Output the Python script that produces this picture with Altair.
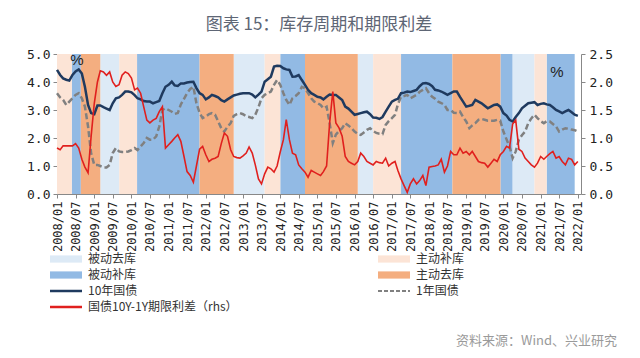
import altair as alt
import pandas as pd

# ---------------- data ----------------
months = pd.date_range("2008-01-01", periods=169, freq="MS").strftime("%Y/%m/%d").tolist()

y10 = [4.43,4.25,4.13,4.08,4.05,4.25,4.38,4.45,4.30,3.83,
       3.18,2.89,2.85,3.16,3.16,3.10,3.05,3.00,3.24,3.42,
       3.45,3.54,3.66,3.66,3.63,3.53,3.42,3.38,3.32,3.30,
       3.30,3.24,3.28,3.32,3.60,3.83,3.90,4.01,3.88,3.86,
       3.95,3.95,3.98,4.00,4.01,3.78,3.60,3.54,3.38,3.45,
       3.54,3.50,3.45,3.35,3.30,3.38,3.45,3.52,3.55,3.58,
       3.60,3.60,3.60,3.55,3.45,3.55,3.66,4.01,4.10,4.19,
       4.55,4.58,4.57,4.49,4.45,4.43,4.19,4.20,4.25,4.07,
       3.90,3.72,3.60,3.54,3.47,3.45,3.38,3.47,3.55,3.54,
       3.54,3.45,3.36,3.12,3.05,2.94,2.83,2.86,2.89,2.92,
       2.94,2.85,2.73,2.72,2.68,2.75,2.94,3.12,3.30,3.36,
       3.40,3.60,3.62,3.66,3.64,3.68,3.72,3.85,3.95,3.96,
       3.93,3.85,3.72,3.70,3.66,3.60,3.54,3.60,3.66,3.66,
       3.47,3.30,3.12,3.15,3.18,3.36,3.30,3.24,3.15,3.06,
       3.12,3.18,3.20,3.12,2.89,2.80,2.65,2.59,2.75,2.89,
       3.06,3.15,3.24,3.26,3.28,3.18,3.22,3.24,3.20,3.18,
       3.10,3.00,2.95,2.89,2.95,3.00,2.92,2.83,2.79]

y1 = [3.60,3.45,3.36,3.18,3.30,3.42,3.54,3.60,3.42,3.12,
      2.41,1.46,1.04,1.04,1.00,0.95,0.95,1.04,1.46,1.64,
      1.52,1.50,1.50,1.52,1.57,1.64,1.57,1.70,1.82,2.00,
      1.94,1.94,2.06,2.41,3.00,3.06,3.00,2.94,2.86,2.89,
      3.20,3.40,3.60,3.75,3.83,3.24,2.90,2.71,2.77,2.85,
      2.89,2.83,2.60,2.35,2.23,2.40,2.53,2.79,2.85,2.89,
      2.85,2.77,2.75,2.71,2.83,3.10,3.42,3.54,3.60,3.66,
      3.90,4.07,3.90,3.60,3.36,3.18,3.42,3.50,3.60,3.83,
      3.78,3.60,3.42,3.30,3.25,3.18,3.06,3.12,2.53,1.82,
      2.12,2.25,2.35,2.53,2.45,2.35,2.23,2.15,2.11,2.20,
      2.29,2.35,2.25,2.18,2.15,2.14,2.47,2.60,2.71,2.83,
      3.20,3.47,3.50,3.54,3.42,3.48,3.54,3.65,3.72,3.78,
      3.60,3.47,3.40,3.30,3.25,3.18,3.00,3.00,2.90,2.89,
      2.94,2.75,2.59,2.35,2.45,2.53,2.65,2.68,2.65,2.62,
      2.62,2.62,2.65,2.62,2.23,1.95,1.70,1.28,1.52,1.94,
      2.10,2.23,2.53,2.70,2.83,2.71,2.60,2.53,2.60,2.59,
      2.50,2.41,2.23,2.30,2.35,2.33,2.30,2.28,2.23]

spread = [0.82,0.79,0.86,0.86,0.86,0.86,0.90,0.82,0.62,0.48,
          0.38,1.03,1.62,2.00,2.20,2.18,2.12,2.18,2.00,1.92,
          1.95,2.12,2.18,2.15,2.07,1.86,1.89,1.80,1.56,1.32,
          1.27,1.32,1.35,1.47,1.56,0.82,0.88,0.94,1.00,1.06,
          0.94,0.67,0.40,0.33,0.21,0.50,0.80,0.85,0.70,0.58,
          0.62,0.64,0.67,0.90,1.09,1.03,0.79,0.67,0.65,0.64,
          0.68,0.73,0.84,0.73,0.52,0.27,0.18,0.36,0.48,0.45,
          0.39,0.50,0.75,0.97,1.33,0.97,0.73,0.70,0.52,0.45,
          0.39,0.30,0.42,0.39,0.36,0.33,0.40,0.50,1.27,1.83,
          1.27,1.18,1.03,0.67,0.58,0.55,0.52,0.58,0.73,0.67,
          0.58,0.55,0.52,0.58,0.56,0.55,0.64,0.50,0.55,0.58,
          0.42,0.27,0.15,0.03,0.18,0.27,0.18,0.24,0.33,0.15,
          0.48,0.49,0.50,0.52,0.62,0.39,0.50,0.76,0.70,0.70,
          0.82,0.73,0.76,0.70,0.76,0.67,0.58,0.56,0.55,0.48,
          0.55,0.62,0.58,0.70,0.76,0.85,0.82,1.25,1.32,0.80,
          0.76,0.64,0.58,0.52,0.48,0.55,0.67,0.62,0.67,0.72,
          0.76,0.64,0.67,0.58,0.52,0.64,0.62,0.52,0.58]

band_start = ["2008/01/01","2008/05/25","2008/08/22","2009/03/01","2009/09/03",
              "2010/02/25","2011/11/01","2012/10/01","2013/08/01","2014/01/01",
              "2014/09/01","2016/02/01","2016/07/01","2017/04/01","2018/08/18",
              "2019/12/03","2020/04/01","2020/11/01","2021/03/01"]
band_end = band_start[1:] + ["2021/12/01"]
band_phase = ["主动补库","被动补库","主动去库","被动去库","主动补库",
              "被动补库","主动去库","被动去库","主动补库","被动补库",
              "主动去库","被动去库","主动补库","被动补库","主动去库",
              "被动补库","被动去库","主动补库","被动补库"]

passive_names = ["被动去库", "被动补库"]
passive_colors = ["#DDEAF6", "#92BAE4"]
active_names = ["主动补库", "主动去库"]
active_colors = ["#FCE4D6", "#F4AE80"]

title_text = "图表 15：库存周期和期限利差"
source_text = "资料来源：Wind、兴业研究"

df = pd.DataFrame({"date": months, "y10": y10, "y1": y1, "spread": spread})
bands = pd.DataFrame({"start": band_start, "end": band_end, "phase": band_phase})

# ---------------- layout ----------------
W, H = 524, 140
CJK = "Noto Sans CJK SC"
NUM = "DejaVu Sans Mono"

x_dom = [alt.DateTime(year=2008, month=1, date=1), alt.DateTime(year=2022, month=2, date=1)]
tick_vals = [alt.DateTime(year=y, month=m, date=1)
             for y in range(2008, 2023) for m in (1, 7) if not (y == 2022 and m == 7)]

x_axis = alt.Axis(values=tick_vals, format="%Y/%m", labelAngle=270, labelFont=NUM,
                  labelFontSize=12, labelColor="#222", tickSize=4, tickColor="#888",
                  domainColor="#888", labelPadding=3, grid=False, labelOverlap=False,
                  labelFlush=False)
x_scale = alt.Scale(domain=x_dom, nice=False)


def X(field):
    return alt.X(field, scale=x_scale, axis=x_axis, title=None)


def line_legend(x, y, dash=None):
    kw = dict(title=None, orient="none", legendX=x, legendY=y, symbolType="M-4,0H4",
              symbolSize=64, symbolStrokeWidth=2.5, labelFont=CJK, labelFontSize=12,
              labelColor="#333", labelOffset=16)
    if dash:
        kw["symbolDash"] = dash
        kw["symbolStrokeWidth"] = 2
    return alt.Legend(**kw)


def band_legend(x, y):
    return alt.Legend(title=None, orient="none", legendX=x, legendY=y,
                      symbolType="M-4,-0.9H4V0.9H-4Z", symbolSize=64,
                      symbolStrokeWidth=0, symbolOpacity=1, labelFont=CJK, labelFontSize=12,
                      labelColor="#333", labelOffset=16, rowPadding=4)


passive = alt.Chart(bands).transform_filter(
    alt.FieldOneOfPredicate(field="phase", oneOf=passive_names)
).mark_rect().encode(
    x=X("start:T"), x2="end:T",
    color=alt.Color("phase:N", scale=alt.Scale(domain=passive_names, range=passive_colors),
                    legend=band_legend(3, 199))
)

active = alt.Chart(bands).transform_filter(
    alt.FieldOneOfPredicate(field="phase", oneOf=active_names)
).mark_rect().encode(
    x=X("start:T"), x2="end:T",
    color=alt.Color("phase:N", scale=alt.Scale(domain=active_names, range=active_colors),
                    legend=band_legend(331, 199))
)

left_axis = alt.Axis(values=[0, 1, 2, 3, 4, 5], format=".1f", labelFont=NUM, labelFontSize=13,
                     labelColor="#222", tickSize=4, tickColor="#888", domainColor="#888",
                     labelPadding=3, grid=False)

one_year = alt.Chart(df).transform_calculate(s="'1年国债'").mark_line(
    strokeWidth=2.5, strokeDash=[6, 3]
).encode(
    x=X("date:T"),
    y=alt.Y("y1:Q", scale=alt.Scale(domain=[0, 5], nice=False), axis=None),
    color=alt.Color("s:N", scale=alt.Scale(domain=["1年国债"], range=["#808080"]),
                    legend=line_legend(331, 231, [4, 2]))
)

ten_year = alt.Chart(df).transform_calculate(s="'10年国债'").mark_line(strokeWidth=2.5).encode(
    x=X("date:T"),
    y=alt.Y("y10:Q", scale=alt.Scale(domain=[0, 5], nice=False), axis=left_axis, title=None),
    color=alt.Color("s:N", scale=alt.Scale(domain=["10年国债"], range=["#1F3A5F"]),
                    legend=line_legend(3, 231))
)

right_axis = alt.Axis(orient="right", values=[0, 0.5, 1, 1.5, 2, 2.5], format=".1f",
                      labelFont=NUM, labelFontSize=13, labelColor="#222", tickSize=4,
                      tickColor="#888", domainColor="#888", labelPadding=4, grid=False)

spread_line = alt.Chart(df).transform_calculate(s="'国债10Y-1Y期限利差（rhs）'").mark_line(
    strokeWidth=1.6
).encode(
    x=X("date:T"),
    y=alt.Y("spread:Q", scale=alt.Scale(domain=[0, 2.5], nice=False), axis=right_axis, title=None),
    color=alt.Color("s:N", scale=alt.Scale(domain=["国债10Y-1Y期限利差（rhs）"], range=["#E0201E"]),
                    legend=line_legend(3, 247))
)

texts = pd.DataFrame({"t": [title_text]})
title_mark = alt.Chart(texts).mark_text(
    font=CJK, fontSize=17, color="#5E6675", align="center", baseline="middle"
).encode(text="t:N", x=alt.value(W / 2), y=alt.value(-29))

src_mark = alt.Chart(pd.DataFrame({"t": [source_text]})).mark_text(
    font=CJK, fontSize=13, color="#9A9A9A", align="right", baseline="middle"
).encode(text="t:N", x=alt.value(560), y=alt.value(287))

pct = alt.Chart(pd.DataFrame({"t": ["%", "%"], "px": [20, 500], "py": [6, 18]})).mark_text(
    font="Liberation Sans", fontSize=15, color="#222", align="center", baseline="middle"
).encode(text="t:N", x=alt.X("px:Q", scale=None, axis=None), y=alt.Y("py:Q", scale=None, axis=None))

chart = alt.layer(
    passive, active, one_year, ten_year, spread_line, title_mark, src_mark, pct
).resolve_scale(
    y="independent", color="independent"
).properties(
    width=W, height=H,
    autosize=alt.AutoSizeParams(type="none"),
    padding={"left": 49, "top": 46, "right": 51, "bottom": 156},
    background="white",
).configure_view(stroke=None)

chart.save("out.html", embed_options={"renderer": "svg", "actions": False})
